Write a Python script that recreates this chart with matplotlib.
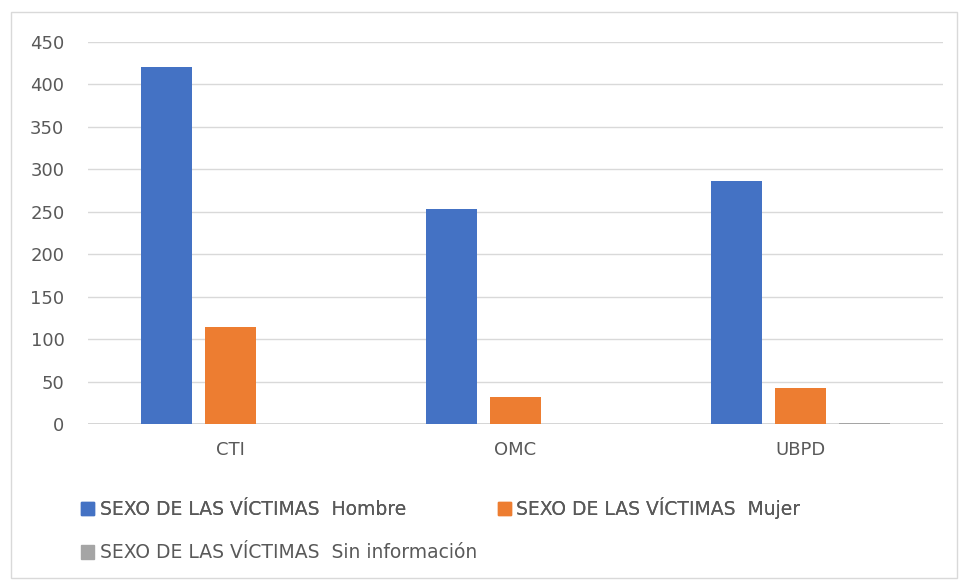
import matplotlib
matplotlib.use("Agg")
import matplotlib.pyplot as plt
from matplotlib.patches import Rectangle, Patch
import numpy as np

categories = ["CTI", "OMC", "UBPD"]
hombre = [420, 253, 286]
mujer = [114, 32, 42]
sin_info = [0, 0, 1.5]
series_labels = ["SEXO DE LAS VÍCTIMAS  Hombre",
                 "SEXO DE LAS VÍCTIMAS  Mujer",
                 "SEXO DE LAS VÍCTIMAS  Sin información"]
colors = ["#4472C4", "#ED7D31", "#A5A5A5"]
yticks = [0, 50, 100, 150, 200, 250, 300, 350, 400, 450]

plt.rcParams['font.family'] = ['DejaVu Sans']

fig = plt.figure(figsize=(9.59, 5.80), dpi=100)
ax = fig.add_axes([88/959, 1-424/580, (943-88)/959, (424-42)/580])

x = np.arange(len(categories))
w = 0.179
off = 0.2246
for i, (vals, c) in enumerate(zip([hombre, mujer, sin_info], colors)):
    ax.bar(x + (i-1)*off, vals, width=w, color=c, zorder=3, label=series_labels[i])

ax.set_xlim(-0.5, 2.5)
ax.set_ylim(0, 450)
ax.set_yticks(yticks)
ax.set_xticks(x)
ax.set_xticklabels(categories)
ax.grid(axis='y', color='#D9D9D9', linewidth=1, zorder=0)
for s in ax.spines.values():
    s.set_visible(False)
ax.axhline(0, color='#D0D0D0', linewidth=1.2, zorder=2)
ax.tick_params(axis='both', length=0, labelsize=13, colors='#595959')
ax.tick_params(axis='y', pad=17)
ax.tick_params(axis='x', pad=12)

# outer chart border
fig.patches.append(Rectangle((11/959, 2/580), 946/959, 566/580, transform=fig.transFigure,
                             fill=False, edgecolor='#D9D9D9', linewidth=1))

handles = [Patch(color=c) for c in colors]
leg1 = fig.legend(handles[:2], series_labels[:2], loc='center left', ncol=2,
                  bbox_to_anchor=(64/959, 1-508/580), frameon=False, fontsize=13.5,
                  handlelength=0.7, handleheight=0.7, handletextpad=0.3, columnspacing=4.9,
                  labelcolor='#595959')
leg2 = fig.legend(handles[2:], series_labels[2:], loc='center left',
                  bbox_to_anchor=(64/959, 1-553/580), frameon=False, fontsize=13.5,
                  handlelength=0.7, handleheight=0.7, handletextpad=0.3,
                  labelcolor='#595959')
fig.add_artist(leg1)

fig.savefig("out.png", dpi=100)
